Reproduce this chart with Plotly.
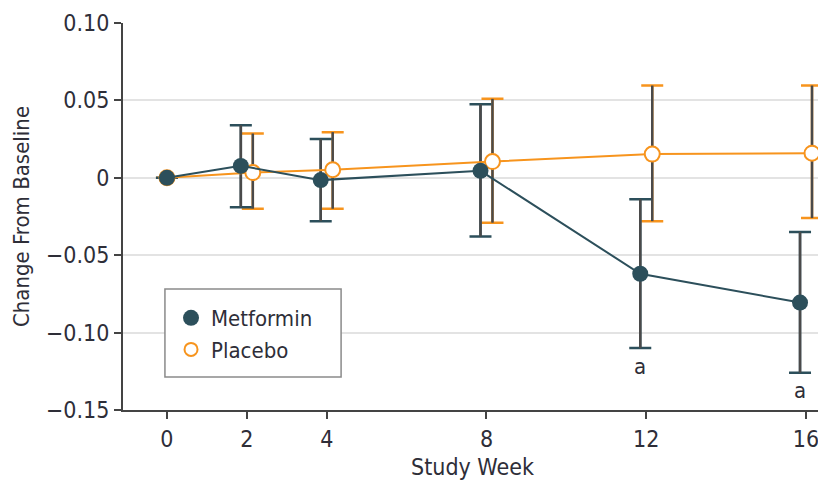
import plotly.graph_objects as go

weeks = [0, 2, 4, 8, 12, 16]
met_mean = [0.0, 0.0077, -0.0015, 0.0045, -0.062, -0.0806]
met_upper = [None, 0.034, 0.025, 0.0475, -0.0138, -0.035]
met_lower = [None, -0.019, -0.028, -0.038, -0.110, -0.126]
pla_mean = [0.0, 0.0034, 0.0052, 0.0105, 0.0153, 0.0159]
pla_upper = [None, 0.0286, 0.0295, 0.051, 0.0596, 0.0596]
pla_lower = [None, -0.020, -0.020, -0.029, -0.028, -0.026]
sig_weeks = [12, 16]
y_ticks = [-0.15, -0.10, -0.05, 0, 0.05, 0.10]
y_labels = ["\u22120.15", "\u22120.10", "\u22120.05", "0", "0.05", "0.10"]

MET = "#2c4f5b"
PLA = "#f7941d"
STEM = "#4a4a4a"
TXT = "#2e2e38"
FONT = "DejaVu Sans Condensed, Liberation Sans, sans-serif"
OFF = 0.15

met_x = [w - OFF if w > 0 else w for w in weeks]
pla_x = [w + OFF if w > 0 else w for w in weeks]

def errs(mean, up, lo):
    plus = [None if u is None else u - m for m, u in zip(mean, up)]
    minus = [None if l is None else m - l for m, l in zip(mean, lo)]
    return plus, minus

mp, mm = errs(met_mean, met_upper, met_lower)
pp, pm = errs(pla_mean, pla_upper, pla_lower)

fig = go.Figure()

def add_err(x, y, plus, minus, color):
    fig.add_trace(go.Scatter(x=x, y=y, mode="markers", marker=dict(size=1, opacity=0),
                             showlegend=False, hoverinfo="skip",
                             error_y=dict(type="data", symmetric=False, array=plus, arrayminus=minus,
                                          color=color, thickness=2.5, width=11)))
    fig.add_trace(go.Scatter(x=x, y=y, mode="markers", marker=dict(size=1, opacity=0),
                             showlegend=False, hoverinfo="skip",
                             error_y=dict(type="data", symmetric=False, array=plus, arrayminus=minus,
                                          color=STEM, thickness=2.5, width=0)))

add_err(pla_x, pla_mean, pp, pm, PLA)
add_err(met_x, met_mean, mp, mm, MET)

fig.add_trace(go.Scatter(x=pla_x, y=pla_mean, mode="lines+markers", showlegend=False,
                         line=dict(color=PLA, width=2),
                         marker=dict(size=15, color="white", line=dict(color=PLA, width=2))))
fig.add_trace(go.Scatter(x=met_x, y=met_mean, mode="lines+markers", showlegend=False,
                         line=dict(color=MET, width=2),
                         marker=dict(size=16, color=MET, line=dict(color=MET, width=0))))

# legend entries (markers only)
fig.add_trace(go.Scatter(x=[None], y=[None], mode="markers", name="Metformin", legendrank=1,
                         marker=dict(size=16, color=MET)))
fig.add_trace(go.Scatter(x=[None], y=[None], mode="markers", name="Placebo", legendrank=2,
                         marker=dict(size=13, color="white", line=dict(color=PLA, width=2))))

for w in sig_weeks:
    i = weeks.index(w)
    fig.add_annotation(x=met_x[i], y=met_lower[i], text="a", showarrow=False,
                       yanchor="middle", yshift=-18, font=dict(family=FONT, size=22, color=TXT))

# legend frame
fig.add_shape(type="rect", xref="paper", yref="paper", x0=0.060, x1=0.312, y0=0.0853, y1=0.3127,
              line=dict(color="#8a8a8a", width=1.5), fillcolor="white", layer="above")

fig.update_layout(
    width=818, height=473,
    margin=dict(l=115, r=4, t=15, b=71),
    plot_bgcolor="white", paper_bgcolor="white",
    font=dict(family=FONT, size=23, color=TXT),
    legend=dict(x=0.0687, y=0.292, xanchor="left", yanchor="top",
                borderwidth=0, bgcolor="rgba(0,0,0,0)",
                font=dict(family=FONT, size=22, color=TXT),
                itemwidth=30, tracegroupgap=0),
    xaxis=dict(range=[-1.1, 16.4], tickvals=weeks, ticktext=[str(w) for w in weeks],
               showgrid=False, zeroline=False, showline=True, linecolor="#444", linewidth=2,
               ticks="outside", ticklen=7, tickwidth=2, tickcolor="#444", automargin=False,
               title=dict(text="Study Week", standoff=8, font=dict(size=23))),
    yaxis=dict(range=[-0.15, 0.10], tickvals=y_ticks, ticktext=y_labels,
               showgrid=True, gridcolor="#e3e3e3", gridwidth=1.5, zeroline=False,
               showline=True, linecolor="#444", linewidth=2, automargin=False,
               ticks="outside", ticklen=7, tickwidth=2, tickcolor="#444",
               title=dict(text="Change From Baseline", standoff=10, font=dict(size=22))),
)

fig.write_html("out.html")
